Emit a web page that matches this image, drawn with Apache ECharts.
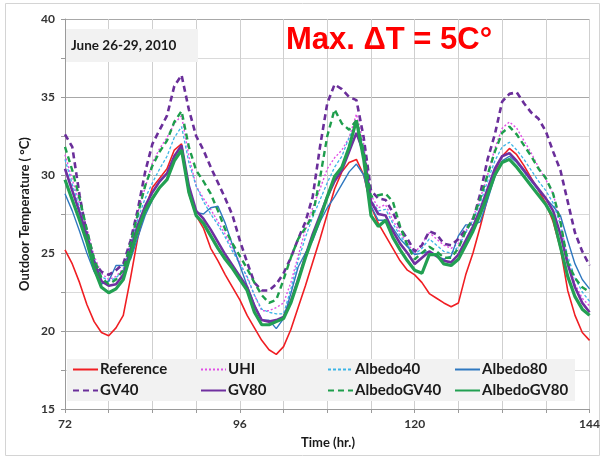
<!DOCTYPE html>
<html>
<head>
<meta charset="utf-8">
<script src="https://cdn.jsdelivr.net/npm/echarts@6/dist/echarts.min.js"></script>
<style>html,body{margin:0;padding:0;background:#fff}#c{width:603px;height:459px}</style>
</head>
<body>
<div id="c"></div>
<script>
const hours = [72,73,74,75,76,77,78,79,80,81,82,83,84,85,86,87,88,89,90,91,92,93,94,95,96,97,98,99,100,101,102,103,104,105,106,107,108,109,110,111,112,113,114,115,116,117,118,119,120,121,122,123,124,125,126,127,128,129,130,131,132,133,134,135,136,137,138,139,140,141,142,143,144];
const xTickLabels = [72, 96, 120, 144];
const yTickLabels = [15, 20, 25, 30, 35, 40];

const reference = [25.2,24.3,23.1,21.7,20.6,19.9,19.7,20.2,21.0,23.4,26.0,27.8,29.2,29.8,30.4,31.6,32.0,28.8,27.4,26.6,25.3,24.5,23.6,22.8,22.0,21.0,20.2,19.4,18.8,18.5,19.0,20.1,21.5,22.9,24.4,25.9,27.5,29.1,30.2,30.8,31.0,30.0,28.0,26.9,26.1,25.3,24.5,23.9,23.6,23.1,22.4,22.1,21.8,21.55,21.8,23.6,25.0,26.7,28.5,30.2,31.2,31.7,31.3,30.6,29.8,29.0,28.2,27.0,25.3,22.6,21.0,19.9,19.4];
const uhi = [31.3,29.7,28.2,26.6,24.8,23.7,23.3,23.5,24.0,25.7,27.6,29.2,30.8,31.7,32.4,33.3,33.8,31.2,29.3,28.5,27.8,27.0,26.2,25.3,24.4,23.4,22.3,21.3,21.3,21.5,21.8,23.1,24.8,26.5,27.9,29.1,30.4,31.1,31.6,32.4,33.9,32.0,28.7,27.9,28.1,27.1,26.3,25.6,25.0,25.6,26.3,25.9,25.5,25.3,25.6,26.4,27.3,28.5,30.0,31.7,33.0,33.4,33.0,32.2,31.4,30.5,29.7,28.8,27.0,24.5,23.0,22.1,21.6];
const albedo40 = [31.0,29.4,27.9,26.3,24.6,23.5,23.2,23.4,23.9,25.5,27.2,28.5,29.5,30.4,31.2,32.4,33.1,30.8,29.3,28.3,27.5,26.8,26.0,25.1,24.3,23.5,22.3,21.4,21.2,21.1,21.1,22.7,24.5,26.0,27.3,28.4,29.5,30.5,31.2,32.4,33.3,31.7,28.4,27.7,27.8,26.9,26.1,25.5,24.9,25.3,25.9,25.5,25.1,25.0,25.4,26.3,27.1,28.2,29.6,30.9,31.8,32.1,31.6,31.0,30.3,29.6,29.0,28.2,26.8,24.8,23.4,22.5,21.9];
const albedo80 = [28.8,27.7,26.4,25.0,23.8,23.0,23.2,24.2,24.2,24.6,26.0,27.4,28.4,29.2,29.7,30.9,31.7,29.0,27.6,27.5,27.9,28.0,26.9,25.5,24.2,22.9,21.7,20.7,20.7,20.15,20.8,22.4,24.1,25.0,25.8,27.0,27.9,28.6,29.4,30.2,30.7,30.0,28.0,27.1,27.1,26.6,25.9,25.4,24.9,25.0,25.1,24.8,24.6,24.8,26.1,26.8,26.8,27.0,28.4,29.9,30.9,31.2,30.8,30.2,29.6,29.0,28.5,28.0,27.4,25.8,24.3,23.3,22.7];
const gv40 = [32.6,31.8,28.7,26.2,24.4,23.8,23.6,23.9,24.3,25.8,27.8,30.2,32.0,32.9,33.8,35.7,36.4,34.2,32.5,31.6,30.5,29.5,28.5,27.4,25.8,24.4,23.1,22.6,22.6,23.0,23.7,24.7,25.9,27.0,28.6,31.8,34.6,35.8,35.5,35.0,34.8,32.4,29.0,28.5,28.4,27.6,26.6,25.9,25.1,25.5,26.4,26.2,25.6,25.5,25.9,26.5,27.1,28.8,31.0,32.6,34.7,35.2,35.3,34.6,34.0,33.6,32.8,31.5,30.3,28.3,26.3,25.1,24.2];
const gv80 = [30.4,29.0,27.6,26.1,24.4,23.2,22.9,23.0,23.6,25.2,26.8,28.0,28.9,29.6,30.1,31.2,31.9,29.3,27.7,27.2,26.5,25.7,24.9,24.2,23.5,22.8,21.6,20.7,20.6,20.7,20.9,21.9,23.3,24.8,26.2,27.4,28.6,29.6,30.3,31.5,32.7,31.4,28.3,27.5,27.4,26.4,25.6,25.0,24.3,24.7,25.1,24.8,24.5,24.4,24.9,25.8,26.7,27.8,29.1,30.4,31.2,31.4,30.9,30.3,29.7,29.1,28.5,27.7,26.2,24.3,22.8,21.8,21.2];
const albedoGV40 = [31.8,30.3,28.5,26.5,24.6,23.4,23.0,23.3,23.9,25.6,27.5,29.3,30.6,31.5,32.2,33.4,34.1,31.8,30.3,29.6,28.8,27.7,26.5,25.6,24.8,24.0,23.1,22.3,21.8,22.0,23.3,24.7,25.9,26.6,27.4,29.8,32.5,34.2,33.3,32.9,33.5,31.5,28.6,28.7,28.8,28.3,26.7,25.5,24.6,25.0,25.4,25.1,24.7,24.7,25.3,26.4,27.2,28.5,30.0,31.5,32.7,33.1,32.6,31.9,31.2,30.4,29.8,28.8,27.0,24.4,23.4,22.8,22.5];
const albedoGV80 = [29.7,28.4,27.1,25.7,24.0,22.8,22.45,22.7,23.3,24.9,26.5,27.7,28.5,29.2,29.7,30.9,31.6,28.9,27.4,26.9,26.1,25.3,24.6,24.0,23.3,22.6,21.2,20.4,20.4,20.6,20.8,21.8,23.2,24.7,26.0,27.2,28.6,29.9,30.5,31.8,33.5,31.0,27.4,26.7,27.1,26.0,25.2,24.5,23.9,23.7,24.9,24.9,24.3,24.2,24.6,25.5,26.4,27.5,28.7,30.0,30.8,31.0,30.5,29.9,29.3,28.7,28.1,27.3,25.4,23.5,22.2,21.4,21.0];

const seriesNames = ['Reference','UHI','Albedo40','Albedo80','GV40','GV80','AlbedoGV40','AlbedoGV80'];
const seriesValues = [reference, uhi, albedo40, albedo80, gv40, gv80, albedoGV40, albedoGV80];
const styles = [
  {color:'#F01E23', width:1.6, type:'solid'},
  {color:'#E14FE6', width:1.4, type:[2,2]},
  {color:'#3DB5E6', width:1.3, type:[3,2]},
  {color:'#2F78C0', width:1.4, type:'solid'},
  {color:'#6A2E9A', width:2.6, type:[6,4]},
  {color:'#7030A0', width:2.6, type:'solid'},
  {color:'#1E9E4C', width:2.4, type:[6,4]},
  {color:'#22A052', width:3.2, type:'solid'}
];
const legendPos = [[72,362],[200,362],[327,362],[454,362],[72,383],[200,383],[327,383],[454,383]];

const chart = echarts.init(document.getElementById('c'), null, {renderer:'canvas'});
const font = 'Lato, "Open Sans", sans-serif';

const series = seriesNames.map((n,i)=>({
  name:n, type:'line', symbol:'none', showSymbol:false, symbolSize:0,
  data: hours.map((h,k)=>[h, seriesValues[i][k]]),
  lineStyle:{color:styles[i].color, width:styles[i].width, type:styles[i].type},
  itemStyle:{color:styles[i].color},
  z: 3+i
}));

const legends = seriesNames.map((n,i)=>({
  data:[n], left:legendPos[i][0], top:legendPos[i][1], padding:0,
  itemWidth:25, itemHeight:14, itemGap:0, z:10,
  itemStyle:{opacity:0},
  textStyle:{fontFamily:font, fontWeight:'bold', fontSize:15, color:'#1a1a1a', padding:[0,0,0,-3]}
}));

chart.setOption({
  animation:false,
  backgroundColor:'#ffffff',
  grid:{left:65, right:10, top:19, bottom:50},
  legend: legends,
  xAxis:{
    type:'value', min:72, max:144, interval:6,
    axisLine:{show:true, lineStyle:{color:'#9a9a9a', width:1}},
    axisTick:{show:true, length:4, lineStyle:{color:'#9a9a9a'}},
    axisLabel:{margin:9, fontFamily:font, fontWeight:'bold', fontSize:12, color:'#333',
      formatter:v=> xTickLabels.indexOf(v)>=0 ? String(v) : ''},
    splitLine:{show:true, lineStyle:{color:'#cfcfcf', width:1}}
  },
  yAxis:{
    type:'value', min:15, max:40, interval:2.5,
    axisLine:{show:true, lineStyle:{color:'#9a9a9a', width:1}},
    axisTick:{show:true, length:4, lineStyle:{color:'#9a9a9a'}},
    axisLabel:{margin:10, fontFamily:font, fontWeight:'bold', fontSize:12, color:'#333',
      formatter:v=> yTickLabels.indexOf(v)>=0 ? String(v) : ''},
    splitLine:{show:true, lineStyle:{color:['#a8a8a8','#dadada'], width:1.2}}
  },
  graphic:[
    {type:'rect', shape:{x:5.5,y:3.5,width:594,height:452}, style:{fill:'none', stroke:'#d4d4d4', lineWidth:1}, z:0, silent:true},
    {type:'rect', shape:{x:66,y:29,width:132,height:33}, style:{fill:'#F2F2F2'}, z:5},
    {type:'text', x:71, y:45.5, style:{text:'June 26-29, 2010', fontFamily:font, fontWeight:'bold', fontSize:13.5, fill:'#1a1a1a', textAlign:'left', textVerticalAlign:'middle'}, z:6},
    {type:'text', x:286, y:40, style:{text:'Max. \u0394T = 5C\u00B0', fontFamily:'"Liberation Sans", Arial, sans-serif', fontWeight:'bold', fontSize:31, fill:'#FF0000', textAlign:'left', textVerticalAlign:'middle'}, z:6},
    {type:'rect', shape:{x:67,y:359,width:508,height:42}, style:{fill:'#F2F2F2'}, z:5},
    {type:'text', x:328, y:443, style:{text:'Time (hr.)', fontFamily:font, fontWeight:'bold', fontSize:13, fill:'#1a1a1a', textAlign:'center', textVerticalAlign:'middle'}, z:6},
    {type:'text', x:25, y:214, rotation:Math.PI/2, style:{text:'Outdoor Temperature ( \u00B0C)', fontFamily:font, fontWeight:'bold', fontSize:13, fill:'#1a1a1a', textAlign:'center', textVerticalAlign:'middle'}, z:6}
  ],
  series: series
});
</script>
</body>
</html>
